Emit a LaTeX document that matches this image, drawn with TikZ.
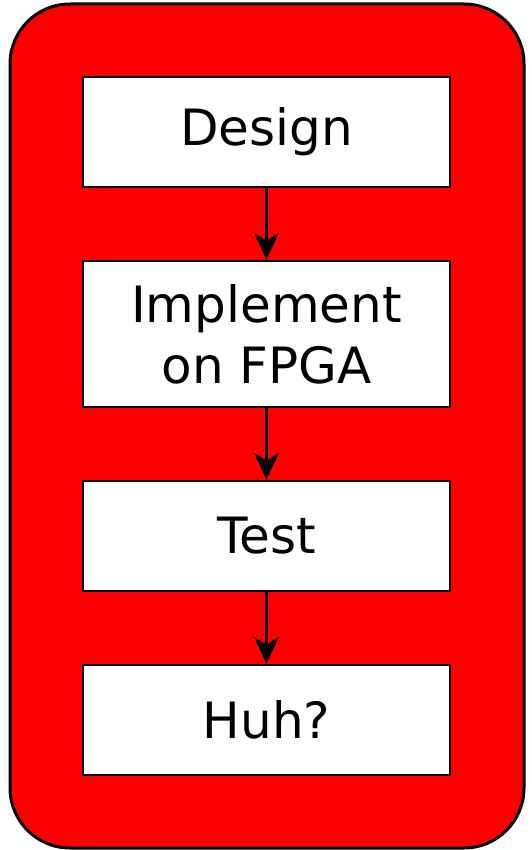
\documentclass[tikz,border=0pt]{standalone}
\usepackage{fontspec}
\setmainfont{DejaVu Sans}
\usetikzlibrary{arrows.meta}
\tikzset{
    stage/.style={draw, fill=white, line width=2.6pt, minimum width=367pt, align=center, font=\fontsize{50}{61}\selectfont},
    flow/.style={line width=2.6pt, -{Stealth[length=27pt, width=25pt, inset=8pt]}}
}
\begin{document}
\begin{tikzpicture}[x=1pt, y=-1pt]
    \def\cx{266.5}
    \useasboundingbox (0,0) rectangle (531,850);

% the red frame
    \draw[fill=red, line width=3pt, rounded corners=60pt] (10,4) rectangle (524,848);

    % the stages
    \node[stage, minimum height=110pt] (design) at (\cx,132) {Design};
    \node[stage, minimum height=146pt] (implement) at (\cx,334) {Implement\\on FPGA};
    \node[stage, minimum height=110pt] (test) at (\cx,536) {Test};
    \node[stage, minimum height=110pt] (huh) at (\cx,720) {Huh?};

    % arrows
    \draw[flow] (design) -- (implement);
    \draw[flow] (implement) -- (test);
    \draw[flow] (test) -- (huh);
\end{tikzpicture}
\end{document}
